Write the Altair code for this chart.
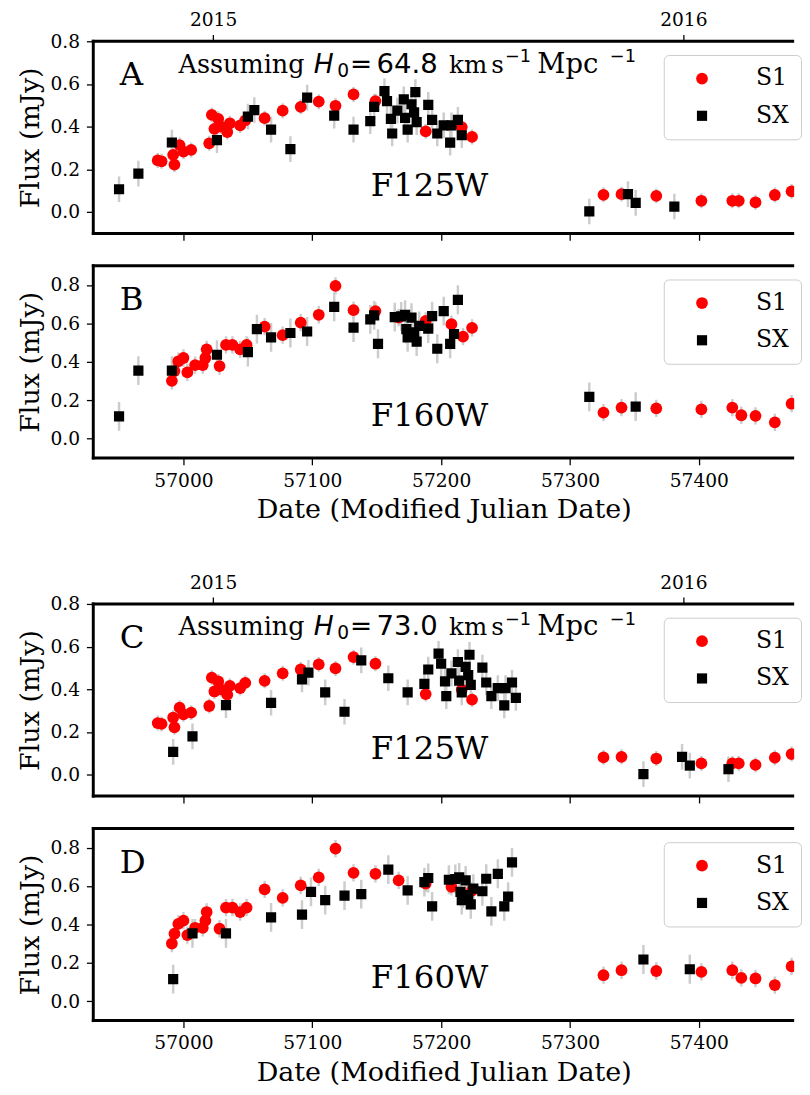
import altair as alt
import pandas as pd

# ---------------- data ----------------
# S1, F125W (panels A and C)
S1_F125W_MJD = [56980, 56983, 56992, 56993, 56997, 57000, 57006, 57020, 57022, 57024,
                57027, 57029, 57034, 57036, 57044, 57048, 57063, 57077, 57091, 57105,
                57118, 57132, 57149, 57188, 57216, 57224,
                57326, 57340, 57367, 57402, 57426, 57431, 57444, 57459, 57472]
S1_F125W_FLUX = [0.242, 0.238, 0.268, 0.222, 0.314, 0.283, 0.291, 0.322, 0.455, 0.390,
                 0.437, 0.400, 0.375, 0.416, 0.406, 0.430, 0.440, 0.475, 0.493, 0.517,
                 0.498, 0.551, 0.520, 0.378, 0.398, 0.352,
                 0.081, 0.084, 0.076, 0.053, 0.053, 0.053, 0.046, 0.080, 0.097]

# S1, F160W (panels B and D)
S1_F160W_MJD = [56991, 56993, 56996, 57000, 57003, 57009, 57015, 57017, 57018, 57028,
                57033, 57038, 57044, 57049, 57063, 57077, 57091, 57105, 57118, 57132,
                57149, 57167, 57188, 57208, 57217, 57224,
                57326, 57340, 57367, 57402, 57426, 57433, 57444, 57459, 57472]
S1_F160W_FLUX = [0.301, 0.352, 0.403, 0.420, 0.345, 0.383, 0.383, 0.420, 0.465, 0.378,
                 0.488, 0.488, 0.465, 0.488, 0.583, 0.539, 0.604, 0.645, 0.795, 0.669,
                 0.664, 0.630, 0.613, 0.596, 0.531, 0.577,
                 0.136, 0.162, 0.158, 0.153, 0.162, 0.122, 0.119, 0.085, 0.182]

# SX, F125W, dates for H0 = 64.8 (panel A) and H0 = 73.0 (panel C)
SX_F125W_MJD_H648 = [56950, 56965, 56991, 57026, 57050, 57055, 57068, 57083, 57096, 57117,
                     57132, 57145, 57148, 57156, 57158, 57161, 57162, 57166, 57171, 57172,
                     57174, 57177, 57180, 57179, 57181, 57190, 57193, 57197, 57202, 57207,
                     57208, 57213, 57216, 57315, 57345, 57351, 57381]
SX_F125W_MJD_H730 = [56992, 57007, 57033, 57068, 57092, 57097, 57110, 57125, 57138, 57159,
                     57174, 57187, 57190, 57198, 57200, 57203, 57204, 57208, 57213, 57214,
                     57216, 57219, 57222, 57221, 57223, 57232, 57235, 57239, 57244, 57249,
                     57250, 57255, 57258, 57357, 57387, 57393, 57423]
SX_F125W_FLUX = [0.107, 0.180, 0.326, 0.337, 0.447, 0.478, 0.386, 0.295, 0.536, 0.452,
                 0.386, 0.426, 0.493, 0.567, 0.520, 0.437, 0.368, 0.475, 0.528, 0.441,
                 0.386, 0.505, 0.562, 0.467, 0.421, 0.502, 0.432, 0.368, 0.406, 0.325,
                 0.406, 0.432, 0.360, 0.003, 0.084, 0.043, 0.026]

# SX, F160W, dates for H0 = 64.8 (panel B) and H0 = 73.0 (panel D)
SX_F160W_MJD_H648 = [56950, 56965, 56991, 57026, 57050, 57057, 57068, 57083, 57096, 57117,
                     57132, 57145, 57148, 57151, 57164, 57169, 57172, 57173, 57174, 57177,
                     57179, 57181, 57183, 57190, 57193, 57197, 57202, 57207, 57210, 57213,
                     57315, 57351]
SX_F160W_MJD_H730 = [56992, 57007, 57033, 57068, 57092, 57099, 57110, 57125, 57138, 57159,
                     57174, 57187, 57190, 57193, 57206, 57211, 57214, 57215, 57216, 57219,
                     57221, 57223, 57225, 57232, 57235, 57239, 57244, 57249, 57252, 57255,
                     57357, 57393]
SX_F160W_FLUX = [0.116, 0.354, 0.354, 0.437, 0.451, 0.570, 0.527, 0.550, 0.558, 0.686,
                 0.578, 0.621, 0.642, 0.494, 0.633, 0.637, 0.645, 0.570, 0.527, 0.630,
                 0.553, 0.505, 0.587, 0.573, 0.638, 0.468, 0.664, 0.494, 0.545, 0.723,
                 0.218, 0.167]

# typical 1-sigma error bars
S1_F125W_ERR = 0.035
S1_F160W_ERR = 0.045
SX_F125W_ERR = 0.060
SX_F160W_ERR = 0.075

SERIES = ["S1", "SX"]
MJD_TICKS = [57000, 57100, 57200, 57300, 57400]
YEAR_TICKS = [57023, 57388]      # 2015-01-01, 2016-01-01
YEAR_LABELS = ["2015", "2016"]
FLUX_TICKS = [0.0, 0.2, 0.4, 0.6, 0.8]
X_DOMAIN = [56930, 57474]        # right side of the frame runs past the picture

SERIF = "DejaVu Serif"
SANS = "DejaVu Sans"
W, H = 715, 196
ONE = pd.DataFrame({"k": [0]})


def make_df(s1_mjd, s1_flux, s1_err, sx_mjd, sx_flux, sx_err):
    s1 = pd.DataFrame({"mjd": s1_mjd, "flux": s1_flux, "err": s1_err, "series": SERIES[0]})
    sx = pd.DataFrame({"mjd": sx_mjd, "flux": sx_flux, "err": sx_err, "series": SERIES[1]})
    df = pd.concat([s1, sx], ignore_index=True)
    df["lo"] = df["flux"] - df["err"]
    df["hi"] = df["flux"] + df["err"]
    return df


def text_layer(txt, x, y, size, font=SERIF, align="left", style="normal"):
    return alt.Chart(pd.DataFrame({"t": [txt]})).mark_text(
        font=font, fontSize=size, align=align, baseline="alphabetic",
        color="black", fontStyle=style
    ).encode(text="t:N", x=alt.value(x), y=alt.value(y))


def frame_layers():
    # left, top and bottom spines (the right one lies outside the picture)
    sp = alt.Chart(ONE).mark_rule(color="black", strokeWidth=3)
    return [
        sp.encode(x=alt.value(0), y=alt.value(-1.5), y2=alt.value(H + 1.5)),
        sp.encode(x=alt.value(-1.5), x2=alt.value(W), y=alt.value(0)),
        sp.encode(x=alt.value(-1.5), x2=alt.value(W), y=alt.value(H)),
    ]


def h0_layers(h0):
    b = 32
    return [
        text_layer("Assuming", 87, b, 26),
        text_layer("H", 225, b, 27, font=SANS, style="italic"),
        text_layer("0", 249, b + 4, 19, font=SANS),
        text_layer("=", 262, b, 27, font=SANS),
        text_layer(h0, 289, b, 28, font=SANS),
        text_layer("km", 363, b, 25),
        text_layer("s", 406, b, 25),
        text_layer("\u22121", 420, b - 11, 18, font=SANS),
        text_layer("Mpc", 453, b, 28),
        text_layer("\u22121", 527, b - 11, 18, font=SANS),
    ]


def panel(df, ydom, letter, filt, filt_y, h0=None, top_axis=False, bottom_labels=False):
    xs = alt.Scale(domain=X_DOMAIN, nice=False, zero=False)
    ys = alt.Scale(domain=ydom, nice=False, zero=False)
    yaxis = alt.Axis(values=FLUX_TICKS, format=".1f", title="Flux (mJy)")
    if top_axis:
        year_expr = "datum.value < 57200 ? '%s' : '%s'" % (YEAR_LABELS[0], YEAR_LABELS[1])
        rx = alt.X("mjd:Q", scale=xs, axis=alt.Axis(orient="top", values=YEAR_TICKS,
                                                     labelExpr=year_expr, title=None,
                                                     labelPadding=5))
    else:
        rx = alt.X("mjd:Q", scale=xs, axis=None)
    if bottom_labels:
        px = alt.X("mjd:Q", scale=xs, axis=alt.Axis(orient="bottom", values=MJD_TICKS,
                                                     format="d",
                                                     title="Date (Modified Julian Date)"))
    else:
        px = alt.X("mjd:Q", scale=xs, axis=alt.Axis(orient="bottom", values=MJD_TICKS,
                                                     labels=False, title=None))
    base = alt.Chart(df)
    rules = base.mark_rule(color="#cccccc", strokeWidth=2.5, clip=True).encode(
        x=rx, y=alt.Y("lo:Q", scale=ys, axis=yaxis), y2="hi:Q")
    leg = alt.Legend(title=None, orient="none", legendX=582, legendY=14,
                     padding=12, symbolOffset=15, labelOffset=43, rowPadding=14,
                     labelFont=SERIF, labelFontSize=24, labelColor="black",
                     symbolStrokeWidth=0,
                     strokeColor="#cccccc", fillColor="white", cornerRadius=5)
    points = base.mark_point(filled=True, opacity=1, clip=True).encode(
        x=px,
        y=alt.Y("flux:Q", scale=ys, axis=yaxis),
        color=alt.Color("series:N", scale=alt.Scale(domain=SERIES, range=["#ff0000", "#000000"]),
                        legend=leg),
        shape=alt.Shape("series:N", scale=alt.Scale(domain=SERIES, range=["circle", "square"]),
                        legend=leg),
        size=alt.Size("series:N", scale=alt.Scale(domain=SERIES, range=[144, 108]),
                      legend=leg),
    )
    layers = [rules, points] + frame_layers() + [
        text_layer(letter, 27, 45, 33),
        text_layer(filt, 343, filt_y, 33, align="center")]
    if h0 is not None:
        layers += h0_layers(h0)
    return alt.layer(*layers).resolve_axis(x="independent").properties(width=W, height=H)


dfA = make_df(S1_F125W_MJD, S1_F125W_FLUX, S1_F125W_ERR, SX_F125W_MJD_H648, SX_F125W_FLUX, SX_F125W_ERR)
dfB = make_df(S1_F160W_MJD, S1_F160W_FLUX, S1_F160W_ERR, SX_F160W_MJD_H648, SX_F160W_FLUX, SX_F160W_ERR)
dfC = make_df(S1_F125W_MJD, S1_F125W_FLUX, S1_F125W_ERR, SX_F125W_MJD_H730, SX_F125W_FLUX, SX_F125W_ERR)
dfD = make_df(S1_F160W_MJD, S1_F160W_FLUX, S1_F160W_ERR, SX_F160W_MJD_H730, SX_F160W_FLUX, SX_F160W_ERR)

pA = panel(dfA, [-0.1, 0.8], "A", "F125W", 158, h0="64.8", top_axis=True)
pB = panel(dfB, [-0.1, 0.9], "B", "F160W", 163, bottom_labels=True)
pC = panel(dfC, [-0.1, 0.8], "C", "F125W", 158, h0="73.0", top_axis=True)
pD = panel(dfD, [-0.1, 0.9], "D", "F160W", 163, bottom_labels=True)


def res(c):
    return c.resolve_scale(y="independent", color="independent", shape="independent",
                           size="independent").resolve_legend(
        color="independent", shape="independent", size="independent")


top = res(alt.vconcat(pA, pB, spacing=22))
bottom = res(alt.vconcat(pC, pD, spacing=22))
chart = res(alt.vconcat(top, bottom, spacing=51)).properties(
    padding={"left": 8, "top": -8, "right": 0, "bottom": 0}
).configure_view(
    strokeWidth=0
).configure_axis(
    domain=False, grid=False, tickSize=7, tickWidth=1.3, tickColor="black",
    labelFont=SERIF, labelFontSize=19, labelColor="black", labelPadding=7,
    titleFont=SERIF, titleFontSize=27.5, titleFontWeight="normal", titleColor="black",
    titlePadding=6
)

chart.save("out.html", embed_options={"renderer": "svg", "actions": False})
